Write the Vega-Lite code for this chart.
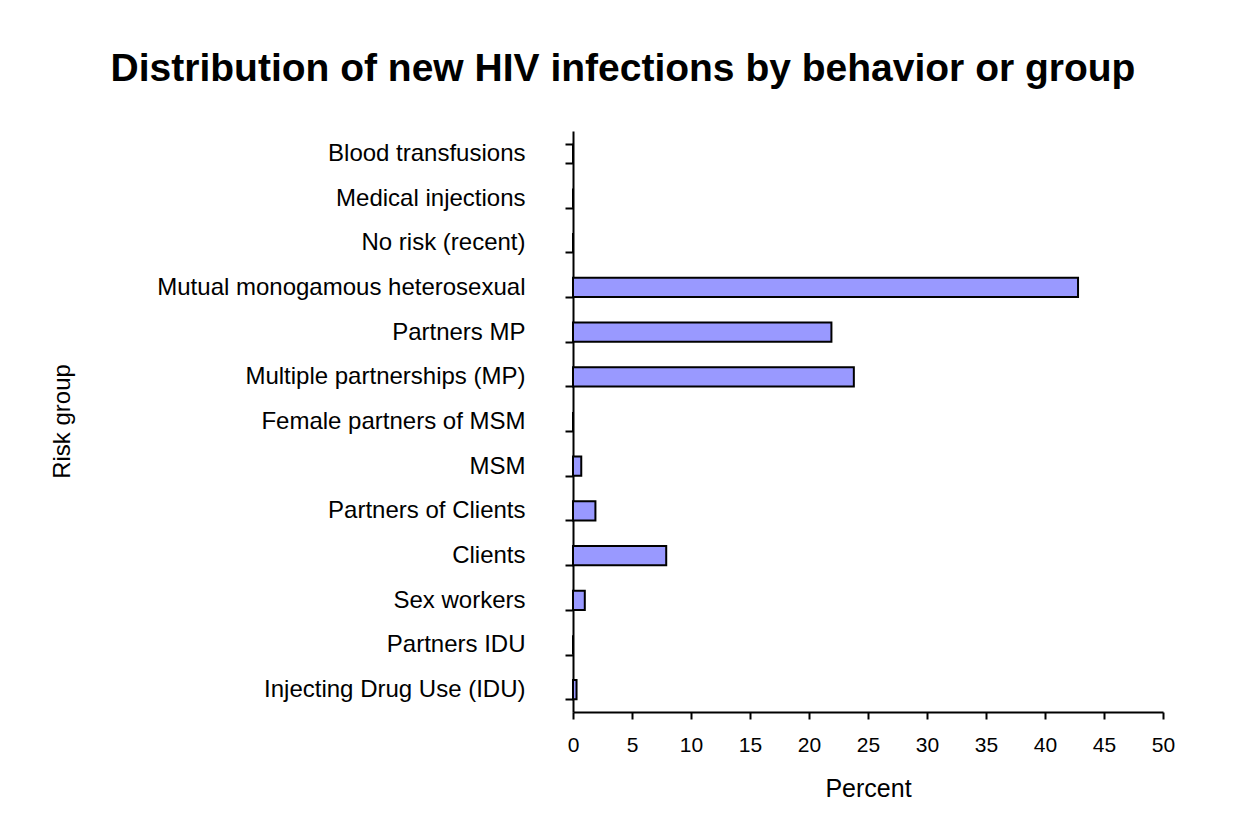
{
  "$schema": "https://vega.github.io/schema/vega-lite/v6.json",
  "autosize": {"type": "none"},
  "width": 590,
  "height": 581,
  "padding": {"left": 573, "top": 131, "right": 84, "bottom": 123},
  "background": "white",
  "title": {
    "text": "Distribution of new HIV infections by behavior or group",
    "font": "Liberation Sans",
    "fontSize": 39,
    "fontWeight": "bold",
    "color": "black",
    "anchor": "middle",
    "frame": "group",
    "dx": -245,
    "baseline": "alphabetic",
    "offset": -1
  },
  "data": {
    "values": [
      {"group": "Blood transfusions", "percent": 0},
      {"group": "Medical injections", "percent": 0},
      {"group": "No risk (recent)", "percent": 0},
      {"group": "Mutual monogamous heterosexual", "percent": 42.8},
      {"group": "Partners MP", "percent": 21.9},
      {"group": "Multiple partnerships (MP)", "percent": 23.8},
      {"group": "Female partners of MSM", "percent": 0},
      {"group": "MSM", "percent": 0.7},
      {"group": "Partners of Clients", "percent": 1.9},
      {"group": "Clients", "percent": 7.9},
      {"group": "Sex workers", "percent": 1.0},
      {"group": "Partners IDU", "percent": 0},
      {"group": "Injecting Drug Use (IDU)", "percent": 0.3}
    ]
  },
  "mark": {"type": "bar", "fill": "#9999FF", "stroke": "black", "strokeWidth": 2},
  "encoding": {
    "y": {
      "field": "group",
      "type": "nominal",
      "sort": null,
      "scale": {"paddingInner": 0.57, "paddingOuter": 0.285},
      "axis": {
        "title": "Risk group",
        "titleFont": "Liberation Sans",
        "titleFontSize": 24,
        "titleFontWeight": "normal",
        "titleColor": "black",
        "titleX": -511,
        "titleY": 290,
        "titleAngle": -90,
        "titleAlign": "center",
        "titleBaseline": "middle",
        "labelFont": "Liberation Sans",
        "labelFontSize": 24,
        "labelColor": "black",
        "labelPadding": 40,
        "labelLimit": 600,
        "tickBand": "extent",
        "tickSize": 8,
        "tickColor": "black",
        "tickWidth": 2,
        "domainColor": "black",
        "domainWidth": 2,
        "grid": false
      }
    },
    "x": {
      "field": "percent",
      "type": "quantitative",
      "scale": {"domain": [0, 50], "nice": false},
      "axis": {
        "title": "Percent",
        "values": [0, 5, 10, 15, 20, 25, 30, 35, 40, 45, 50],
        "titleFont": "Liberation Sans",
        "titleFontSize": 25,
        "titleFontWeight": "normal",
        "titleColor": "black",
        "titlePadding": 21,
        "labelFont": "Liberation Sans",
        "labelFontSize": 21,
        "labelColor": "black",
        "labelPadding": 15,
        "labelFlush": false,
        "tickSize": 7,
        "tickColor": "black",
        "tickWidth": 2,
        "domainColor": "black",
        "domainWidth": 2,
        "grid": false
      }
    }
  },
  "config": {"view": {"stroke": null}}
}
